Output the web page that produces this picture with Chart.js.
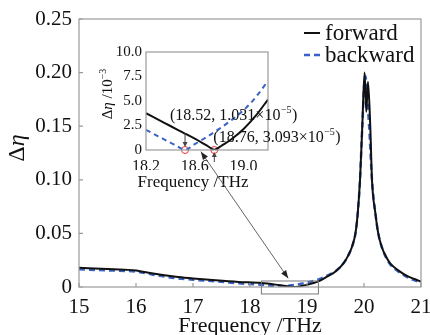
<!DOCTYPE html>
<html>
<head>
<meta charset="utf-8">
<script src="https://cdn.jsdelivr.net/npm/chart.js@4.4.1/dist/chart.umd.min.js"></script>
<style>
  body { margin: 0; background: #fff; }
  #wrap { position: relative; width: 430px; height: 335px; }
  #wrap canvas { position: absolute; left: 0; top: 0; }
</style>
</head>
<body>
<div id="wrap">
  <canvas id="mainChart" width="430" height="335"></canvas>
  <canvas id="insetChart" width="430" height="335"></canvas>
</div>
<script>
// main plot data (Δη vs frequency, THz)
const fwdFreq = [15, 15.5, 15.8, 16.0, 16.3, 16.7, 17.0, 17.4, 17.8, 18.2, 18.5, 18.76, 19.0, 19.2, 19.35, 19.5, 19.64, 19.72, 19.79, 19.85, 19.89, 19.93, 19.97, 20.01, 20.04, 20.07, 20.11, 20.14, 20.2, 20.25, 20.31, 20.4, 20.46, 20.6, 20.78, 20.9, 21.0];
const forward = [0.018, 0.0168, 0.0161, 0.0155, 0.0125, 0.0095, 0.0080, 0.0062, 0.0047, 0.0037, 0.0019, 0.00003, 0.0021, 0.0052, 0.0096, 0.0145, 0.0221, 0.029, 0.0376, 0.05, 0.0687, 0.0998, 0.15, 0.200, 0.1635, 0.1915, 0.15, 0.0998, 0.0687, 0.05, 0.0376, 0.027, 0.0221, 0.0155, 0.0096, 0.0072, 0.005];
const bwdFreq = [15, 15.5, 16.0, 16.3, 16.7, 17.0, 17.4, 17.8, 18.2, 18.35, 18.52, 18.7, 18.9, 19.0, 19.2, 19.35, 19.5, 19.64, 19.72, 19.79, 19.85, 19.89, 19.93, 19.97, 20.02, 20.09, 20.14, 20.2, 20.25, 20.31, 20.4, 20.46, 20.6, 20.78, 20.9, 21.0];
const backward = [0.0165, 0.0155, 0.0143, 0.0115, 0.0082, 0.0068, 0.0052, 0.0035, 0.0020, 0.0012, 0.00001, 0.0013, 0.003, 0.004, 0.0070, 0.0105, 0.0148, 0.0221, 0.029, 0.0376, 0.05, 0.0687, 0.0998, 0.15, 0.197, 0.15, 0.0998, 0.0687, 0.05, 0.0376, 0.026, 0.021, 0.0145, 0.0085, 0.006, 0.0042];

// inset data (Δη in units of 10^-3)
const insetFwdFreq = [18.2, 18.3, 18.4, 18.5, 18.6, 18.7, 18.76, 18.82, 18.9, 19.0, 19.1, 19.2];
const insetForward = [3.75, 3.1, 2.45, 1.8, 1.15, 0.45, 0.03, 0.45, 1.1, 2.15, 3.5, 5.15];
const insetBwdFreq = [18.2, 18.3, 18.4, 18.46, 18.52, 18.6, 18.7, 18.8, 18.9, 19.0, 19.1, 19.2];
const insetBackward = [2.05, 1.4, 0.75, 0.35, 0.01, 0.6, 1.35, 2.15, 3.05, 4.05, 5.4, 7.05];
const minFreq = [18.52, 18.76];
const minVal = [0, 0];

const xTicks = [15, 16, 17, 18, 19, 20, 21];
const yTicks = [0, 0.05, 0.10, 0.15, 0.20, 0.25];
const insetXTicks = [18.2, 18.6, 19.0];
const insetYTicks = [0, 2.5, 5.0, 7.5, 10.0];

const SERIF = "'Liberation Serif', 'DejaVu Serif', serif";
const BLUE = "#3a62c6";
const FRAME = "#9a9a9a";

Chart.defaults.font.family = SERIF;
Chart.defaults.color = "#111";

const toXY = (xs, ys) => xs.map((x, i) => ({ x: x, y: ys[i] }));

function arrowHead(ctx, x1, y1, x2, y2, len, wid) {
  let a = Math.atan2(y2 - y1, x2 - x1);
  ctx.beginPath();
  ctx.moveTo(x2, y2);
  ctx.lineTo(x2 - len * Math.cos(a) + wid * Math.sin(a), y2 - len * Math.sin(a) - wid * Math.cos(a));
  ctx.lineTo(x2 - len * Math.cos(a) - wid * Math.sin(a), y2 - len * Math.sin(a) + wid * Math.cos(a));
  ctx.closePath();
  ctx.fill();
}

// main chart decorations: frame, inward ticks, legend, titles, zoom box
const mainDeco = {
  id: "mainDeco",
  afterDraw(chart) {
    let ctx = chart.ctx;
    let a = chart.chartArea;
    let xs = chart.scales.x, ys = chart.scales.y;
    ctx.save();
    ctx.strokeStyle = FRAME;
    ctx.lineWidth = 1.2;
    ctx.strokeRect(a.left, a.top, a.right - a.left, a.bottom - a.top);
    ctx.beginPath();
    xs.ticks.forEach(t => {
      let px = xs.getPixelForValue(t.value);
      ctx.moveTo(px, a.bottom);
      ctx.lineTo(px, a.bottom - 4);
    });
    ys.ticks.forEach(t => {
      let py = ys.getPixelForValue(t.value);
      ctx.moveTo(a.left, py);
      ctx.lineTo(a.left + 4, py);
    });
    ctx.stroke();

    // zoom box
    ctx.strokeStyle = "#7a7a7a";
    ctx.lineWidth = 1;
    let bx1 = xs.getPixelForValue(18.2), bx2 = xs.getPixelForValue(19.2);
    let by1 = ys.getPixelForValue(0.0056), by2 = ys.getPixelForValue(-0.0065);
    ctx.strokeRect(bx1, by1, bx2 - bx1, by2 - by1);

    // legend
    ctx.font = "23px " + SERIF;
    ctx.fillStyle = "#111";
    ctx.textBaseline = "middle";
    chart.data.datasets.forEach((ds, i) => {
      let y = 33 + i * 22;
      ctx.strokeStyle = ds.borderColor;
      ctx.lineWidth = ds.borderWidth;
      ctx.setLineDash(ds.borderDash || []);
      ctx.beginPath();
      ctx.moveTo(304, y);
      ctx.lineTo(320, y);
      ctx.stroke();
      ctx.setLineDash([]);
      ctx.fillText(ds.label, 325, y + 1);
    });

    // axis titles
    ctx.textAlign = "center";
    ctx.textBaseline = "alphabetic";
    ctx.font = "22px " + SERIF;
    ctx.fillText("Frequency /THz", (a.left + a.right) / 2, 332);
    ctx.translate(24, 148);
    ctx.rotate(-Math.PI / 2);
    ctx.textAlign = "left";
    ctx.font = "24px " + SERIF;
    let w1 = ctx.measureText("Δ").width;
    ctx.font = "italic 24px " + SERIF;
    let w2 = ctx.measureText("η").width;
    let sx = -(w1 + w2) / 2;
    ctx.font = "24px " + SERIF;
    ctx.fillText("Δ", sx, 0);
    ctx.font = "italic 24px " + SERIF;
    ctx.fillText("η", sx + w1, 0);
    ctx.restore();
  }
};

const mainChart = new Chart(document.getElementById("mainChart"), {
  type: "scatter",
  data: {
    datasets: [
      {
        label: "forward",
        data: toXY(fwdFreq, forward),
        showLine: true,
        borderColor: "#111",
        borderWidth: 2,
        pointRadius: 0,
        cubicInterpolationMode: "monotone",
      },
      {
        label: "backward",
        data: toXY(bwdFreq, backward),
        showLine: true,
        borderColor: BLUE,
        borderWidth: 2.5,
        borderDash: [6, 4],
        pointRadius: 0,
        cubicInterpolationMode: "monotone",
      },
    ],
  },
  options: {
    responsive: false,
    devicePixelRatio: 1,
    animation: false,
    events: [],
    layout: { padding: { left: 0, right: 9, top: 19, bottom: 0 } },
    plugins: { legend: { display: false }, tooltip: { enabled: false } },
    scales: {
      x: {
        type: "linear",
        min: 15,
        max: 21,
        afterBuildTicks: s => { s.ticks = xTicks.map(v => ({ value: v })); },
        afterFit: s => { s.height = 48; s.paddingLeft = 0; s.paddingRight = 0; },
        grid: { display: false, drawTicks: false },
        border: { display: false },
        ticks: { font: { family: "Liberation Serif", size: 21 }, padding: 8, maxRotation: 0 },
      },
      y: {
        type: "linear",
        min: 0,
        max: 0.25,
        afterBuildTicks: s => { s.ticks = yTicks.map(v => ({ value: v })); },
        afterFit: s => { s.width = 79; s.paddingTop = 0; s.paddingBottom = 0; },
        grid: { display: false, drawTicks: false },
        border: { display: false },
        ticks: {
          font: { family: "Liberation Serif", size: 21 },
          padding: 7,
          callback: v => (v === 0 ? "0" : v.toFixed(2)),
        },
      },
    },
  },
  plugins: [mainDeco],
});

// inset decorations
const insetDeco = {
  id: "insetDeco",
  beforeDraw(chart) {
    let a = chart.chartArea;
    chart.ctx.save();
    chart.ctx.fillStyle = "#fff";
    chart.ctx.fillRect(a.left, a.top, a.right - a.left, a.bottom - a.top);
    chart.ctx.restore();
  },
  afterDraw(chart) {
    let ctx = chart.ctx;
    let a = chart.chartArea;
    let xs = chart.scales.x, ys = chart.scales.y;
    ctx.save();
    ctx.strokeStyle = FRAME;
    ctx.lineWidth = 1.2;
    ctx.strokeRect(a.left, a.top, a.right - a.left, a.bottom - a.top);

    ctx.fillStyle = "#111";
    ctx.textBaseline = "alphabetic";
    ctx.textAlign = "center";
    ctx.font = "17px " + SERIF;
    ctx.fillText("Frequency /THz", 193, 187);

    // y title with superscript
    ctx.save();
    ctx.translate(112, 94);
    ctx.rotate(-Math.PI / 2);
    ctx.textAlign = "left";
    let parts = [["Δ", "15px", 0], ["η", "italic 15px", 0], [" /10", "15px", 0], ["−3", "10px", -6]];
    let tw = 0;
    parts.forEach(p => { ctx.font = p[1] + " " + SERIF; tw += ctx.measureText(p[0]).width; });
    let px = -tw / 2;
    parts.forEach(p => {
      ctx.font = p[1] + " " + SERIF;
      ctx.fillText(p[0], px, p[2]);
      px += ctx.measureText(p[0]).width;
    });
    ctx.restore();

    // annotations at the two minima
    let m1x = xs.getPixelForValue(minFreq[0]), m1y = ys.getPixelForValue(minVal[0]);
    let m2x = xs.getPixelForValue(minFreq[1]), m2y = ys.getPixelForValue(minVal[1]);
    function supText(str, exp, x, y) {
      ctx.textAlign = "left";
      ctx.font = "16px " + SERIF;
      ctx.fillText(str, x, y);
      x += ctx.measureText(str).width;
      ctx.font = "10px " + SERIF;
      ctx.fillText(exp, x + 0.5, y - 7);
      x += ctx.measureText(exp).width + 1;
      ctx.font = "16px " + SERIF;
      ctx.fillText(")", x, y);
    }
    supText("(18.52, 1.031×10", "−5", m1x - 15, m1y - 30);
    supText("(18.76, 3.093×10", "−5", m2x - 1, m2y - 8);

    ctx.strokeStyle = "#444";
    ctx.fillStyle = "#444";
    ctx.lineWidth = 1;
    ctx.beginPath();
    ctx.moveTo(m1x, m1y - 17);
    ctx.lineTo(m1x, m1y - 5);
    ctx.moveTo(m2x, m2y + 12);
    ctx.lineTo(m2x, m2y + 4);
    ctx.stroke();
    arrowHead(ctx, m1x, m1y - 17, m1x, m1y - 3, 5, 2.5);
    arrowHead(ctx, m2x, m2y + 12, m2x, m2y + 2, 5, 2.5);

    // long arrow linking inset to the zoom box
    let mx = mainChart.scales.x, my = mainChart.scales.y;
    let x1 = xs.getPixelForValue(18.65), y1 = ys.getPixelForValue(-0.17);
    let x2 = mx.getPixelForValue(18.67), y2 = my.getPixelForValue(0.0081);
    ctx.strokeStyle = "#555";
    ctx.fillStyle = "#222";
    ctx.lineWidth = 0.9;
    ctx.beginPath();
    ctx.moveTo(x1, y1);
    ctx.lineTo(x2, y2);
    ctx.stroke();
    arrowHead(ctx, x2, y2, x1, y1, 8, 3);
    arrowHead(ctx, x1, y1, x2, y2, 8, 3);
    ctx.restore();
  }
};

new Chart(document.getElementById("insetChart"), {
  type: "scatter",
  data: {
    datasets: [
      {
        label: "forward",
        data: toXY(insetFwdFreq, insetForward),
        showLine: true,
        borderColor: "#111",
        borderWidth: 2,
        pointRadius: 0,
        cubicInterpolationMode: "monotone",
      },
      {
        label: "backward",
        data: toXY(insetBwdFreq, insetBackward),
        showLine: true,
        borderColor: BLUE,
        borderWidth: 2,
        borderDash: [5, 4],
        pointRadius: 0,
        cubicInterpolationMode: "monotone",
      },
      {
        label: "minima",
        data: toXY(minFreq, minVal),
        showLine: false,
        pointRadius: 3.5,
        pointBorderColor: "#e33",
        pointBackgroundColor: "rgba(255,255,255,0)",
        pointBorderWidth: 1,
        clip: false,
      },
    ],
  },
  options: {
    responsive: false,
    devicePixelRatio: 1,
    animation: false,
    events: [],
    layout: { padding: { left: 106, right: 162, top: 52, bottom: 165 } },
    plugins: { legend: { display: false }, tooltip: { enabled: false } },
    scales: {
      x: {
        type: "linear",
        min: 18.2,
        max: 19.2,
        afterBuildTicks: s => { s.ticks = insetXTicks.map(v => ({ value: v })); },
        afterFit: s => { s.height = 20; s.paddingLeft = 0; s.paddingRight = 0; },
        grid: { display: false, drawTicks: false },
        border: { display: false },
        ticks: { font: { family: "Liberation Serif", size: 16 }, padding: 7, maxRotation: 0, callback: v => v.toFixed(1) },
      },
      y: {
        type: "linear",
        min: 0,
        max: 10,
        afterBuildTicks: s => { s.ticks = insetYTicks.map(v => ({ value: v })); },
        afterFit: s => { s.width = 40; s.paddingTop = 0; s.paddingBottom = 0; },
        grid: { display: false, drawTicks: false },
        border: { display: false },
        ticks: { font: { family: "Liberation Serif", size: 15 }, padding: 4, callback: v => (v === 0 ? "0" : v.toFixed(1)) },
      },
    },
  },
  plugins: [insetDeco],
});
</script>
</body>
</html>
